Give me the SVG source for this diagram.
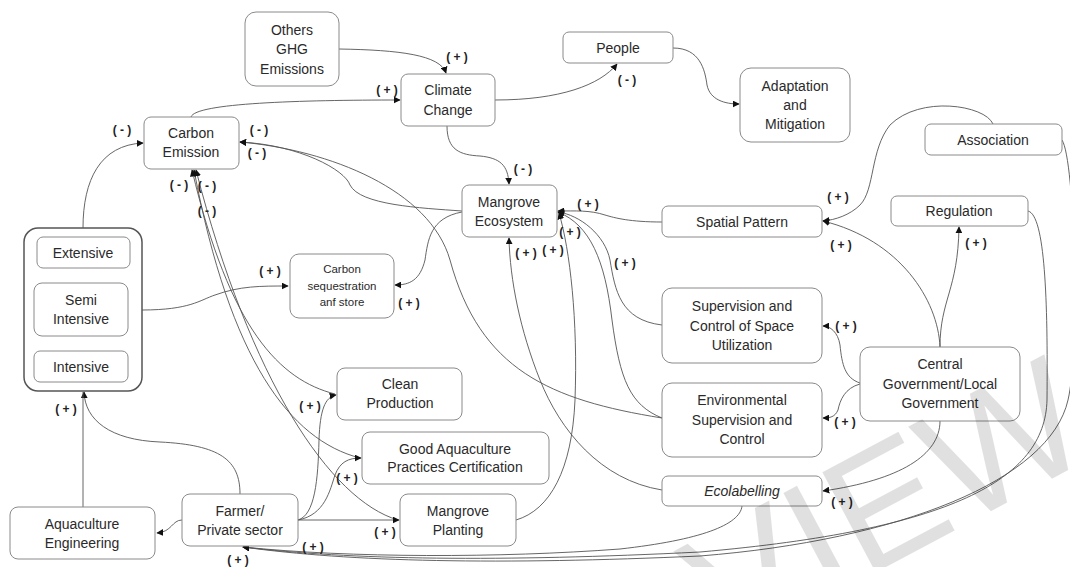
<svg xmlns="http://www.w3.org/2000/svg" width="1070" height="567" viewBox="0 0 1070 567">
<defs>
<marker id="ah" viewBox="0 0 10 10" refX="9" refY="5" markerWidth="7" markerHeight="7" markerUnits="userSpaceOnUse" orient="auto">
<path d="M0,0 L10,5 L0,10 z" fill="#111"/>
</marker>
<style>
.n rect{fill:#fff;stroke:#8a8a8a;stroke-width:1}
.n text{font-family:"Liberation Sans",Arial,sans-serif;font-size:14px;fill:#2a2a2a;text-anchor:middle}
.c path{fill:none;stroke:#555;stroke-width:0.9}
.c path.a{marker-end:url(#ah)}
.lb text{font-family:"Liberation Sans",Arial,sans-serif;font-size:12px;font-weight:bold;fill:#222;text-anchor:middle}
.wm{font-family:"Liberation Sans",Arial,sans-serif;font-size:165px;fill:#000;fill-opacity:0.12}
</style>
</defs>
<rect width="1070" height="567" fill="#fff"/>

<g class="c">
<path class="a" d="M339,49 C400,50 440,55 446,73"/>
<path class="a" d="M191,117 C195,103 300,100 400,100"/>
<path class="a" d="M495,100 C560,100 600,85 617,64"/>
<path class="a" d="M673,48 C700,48 705,70 707,85 C710,100 725,104 739,104"/>
<path class="a" d="M447,126 C447,150 460,155 480,156 C500,158 508,165 509,184"/>
<path class="a" d="M462,211 C420,208 360,205 350,185 C345,170 300,145 240,142"/>
<path class="a" d="M662,418 C550,400 480,370 450,260 C430,190 330,150 240,142"/>
<path class="a" d="M335,394 C280,380 230,330 192,170"/>
<path class="a" d="M360,458 C290,440 230,360 194,170"/>
<path class="a" d="M398,520 C330,500 250,380 196,170"/>
<path class="a" d="M83,228 C83,180 100,145 143,143"/>
<path class="a" d="M142,310 C190,310 200,300 215,295 C240,286 260,286 288,286"/>
<path class="a" d="M462,212 C430,218 428,240 425,260 C420,280 410,285 395,285"/>
<path class="a" d="M662,222 C630,222 615,218 605,215 C590,210 575,211 558,211"/>
<path class="a" d="M662,325 C620,320 615,290 610,260 C605,235 580,215 558,212"/>
<path class="a" d="M662,418 C630,405 620,380 612,320 C605,260 590,225 558,212"/>
<path class="a" d="M516,520 C550,510 572,470 575,400 C578,320 570,250 559,213"/>
<path class="a" d="M662,490 C600,480 560,430 540,380 C520,330 510,280 509,238"/>
<path class="a" d="M940,347 C938,300 900,240 823,221"/>
<path class="a" d="M940,347 C940,300 958,290 959,227"/>
<path class="a" d="M993,124 C985,105 920,95 890,125 C870,150 875,190 860,205 C850,215 835,220 823,221"/>
<path class="a" d="M860,383 C845,378 842,365 840,345 C838,332 830,326 823,326"/>
<path class="a" d="M860,384 C845,388 840,400 838,410 C835,417 830,418 823,418"/>
<path class="a" d="M940,421 C940,455 900,480 823,491"/>
<path class="a" d="M742,506 C740,525 700,540 620,549 C500,558 350,558 243,547"/>
<path class="a" d="M1028,211 C1045,215 1048,300 1047,400 C1045,480 950,530 700,552 C500,562 350,560 243,547"/>
<path class="a" d="M1062,140 C1075,160 1080,350 1068,400 C1050,480 900,540 700,556 C500,565 350,562 243,547"/>
<path class="a" d="M240,494 C240,460 220,445 160,442 C110,440 85,420 84,392"/>
<path d="M83,507 L83,392"/>
<path class="a" d="M182,520 C172,520 172,532 157,533"/>
<path class="a" d="M298,520 C315,515 318,480 319,440 C320,410 325,397 336,395"/>
<path class="a" d="M298,520 C325,515 330,490 335,475 C340,462 348,458 361,458"/>
<path class="a" d="M298,520 L399,520"/>
</g>

<g id="others-ghg" class="n"><rect x="245" y="12" width="94" height="74" rx="11"/><text x="292" y="35">Others</text><text x="292" y="54">GHG</text><text x="292" y="74">Emissions</text></g>
<g id="carbon-emission" class="n"><rect x="144" y="117" width="95" height="52" rx="7"/><text x="191" y="138">Carbon</text><text x="191" y="157">Emission</text></g>
<g id="climate-change" class="n"><rect x="401" y="74" width="94" height="52" rx="7"/><text x="448" y="95">Climate</text><text x="448" y="115">Change</text></g>
<g id="people" class="n"><rect x="563" y="32" width="110" height="31" rx="6"/><text x="618" y="53">People</text></g>
<g id="adaptation" class="n"><rect x="740" y="68" width="110" height="74" rx="11"/><text x="795" y="91">Adaptation</text><text x="795" y="110">and</text><text x="795" y="129">Mitigation</text></g>
<g id="association" class="n"><rect x="925" y="124" width="137" height="31" rx="6"/><text x="993" y="145">Association</text></g>
<g id="spatial-pattern" class="n"><rect x="662" y="206" width="160" height="31" rx="6"/><text x="742" y="227">Spatial Pattern</text></g>
<g id="regulation" class="n"><rect x="891" y="196" width="137" height="30" rx="6"/><text x="959" y="216">Regulation</text></g>
<g id="mangrove-ecosystem" class="n"><rect x="462" y="185" width="95" height="52" rx="7"/><text x="509" y="207">Mangrove</text><text x="509" y="226">Ecosystem</text></g>
<g id="carbon-seq" class="n"><rect x="290" y="254" width="104" height="64" rx="9"/><text x="342" y="273" style="font-size:11.5px">Carbon</text><text x="342" y="290" style="font-size:11.5px">sequestration</text><text x="342" y="306" style="font-size:11.5px">anf store</text></g>
<g id="system-types" class="n"><rect x="24" y="228" width="118" height="163" rx="14" style="stroke:#555;stroke-width:1.5"/>
<rect x="37" y="237" width="93" height="31" rx="6"/><text x="83" y="258">Extensive</text>
<rect x="34" y="283" width="94" height="53" rx="8"/><text x="81" y="305">Semi</text><text x="81" y="324">Intensive</text>
<rect x="34" y="351" width="94" height="31" rx="6"/><text x="81" y="372">Intensive</text></g>
<g id="clean-production" class="n"><rect x="337" y="368" width="125" height="52" rx="8"/><text x="400" y="389">Clean</text><text x="400" y="408">Production</text></g>
<g id="good-aquaculture" class="n"><rect x="362" y="432" width="187" height="52" rx="8"/><text x="455" y="454">Good Aquaculture</text><text x="455" y="472">Practices Certification</text></g>
<g id="mangrove-planting" class="n"><rect x="400" y="494" width="116" height="52" rx="8"/><text x="458" y="516">Mangrove</text><text x="458" y="535">Planting</text></g>
<g id="farmer" class="n"><rect x="182" y="494" width="116" height="52" rx="8"/><text x="240" y="516">Farmer/</text><text x="240" y="535">Private sector</text></g>
<g id="aquaculture-engineering" class="n"><rect x="10" y="507" width="145" height="52" rx="8"/><text x="82" y="529">Aquaculture</text><text x="82" y="548">Engineering</text></g>
<g id="supervision-space" class="n"><rect x="662" y="288" width="160" height="75" rx="10"/><text x="742" y="311">Supervision and</text><text x="742" y="331">Control of Space</text><text x="742" y="350">Utilization</text></g>
<g id="environmental-supervision" class="n"><rect x="662" y="383" width="160" height="74" rx="10"/><text x="742" y="405">Environmental</text><text x="742" y="425">Supervision and</text><text x="742" y="444">Control</text></g>
<g id="ecolabelling" class="n"><rect x="662" y="476" width="160" height="30" rx="6"/><text x="742" y="496" style="font-style:italic">Ecolabelling</text></g>
<g id="central-government" class="n"><rect x="860" y="347" width="160" height="74" rx="10"/><text x="940" y="369">Central</text><text x="940" y="389">Government/Local</text><text x="940" y="408">Government</text></g>

<g class="lb">
<text x="122" y="134">( - )</text>
<text x="259" y="134">( - )</text>
<text x="257" y="157">( - )</text>
<text x="179" y="189">( - )</text>
<text x="207" y="190">( - )</text>
<text x="207" y="215">( - )</text>
<text x="457" y="61">( + )</text>
<text x="387" y="94">( + )</text>
<text x="627" y="84">( - )</text>
<text x="523" y="173">( - )</text>
<text x="588" y="208">( + )</text>
<text x="570" y="236">( + )</text>
<text x="526" y="257">( + )</text>
<text x="553" y="254">( + )</text>
<text x="625" y="267">( + )</text>
<text x="409" y="307">( + )</text>
<text x="270" y="275">( + )</text>
<text x="838" y="201">( + )</text>
<text x="841" y="249">( + )</text>
<text x="976" y="247">( + )</text>
<text x="846" y="330">( + )</text>
<text x="845" y="426">( + )</text>
<text x="842" y="506">( + )</text>
<text x="66" y="413">( + )</text>
<text x="310" y="410">( + )</text>
<text x="347" y="482">( + )</text>
<text x="385" y="536">( + )</text>
<text x="313" y="551">( + )</text>
<text x="238" y="564">( + )</text>
</g>
<text class="wm" transform="translate(726,652) rotate(-28)">VIEW</text>
</svg>
